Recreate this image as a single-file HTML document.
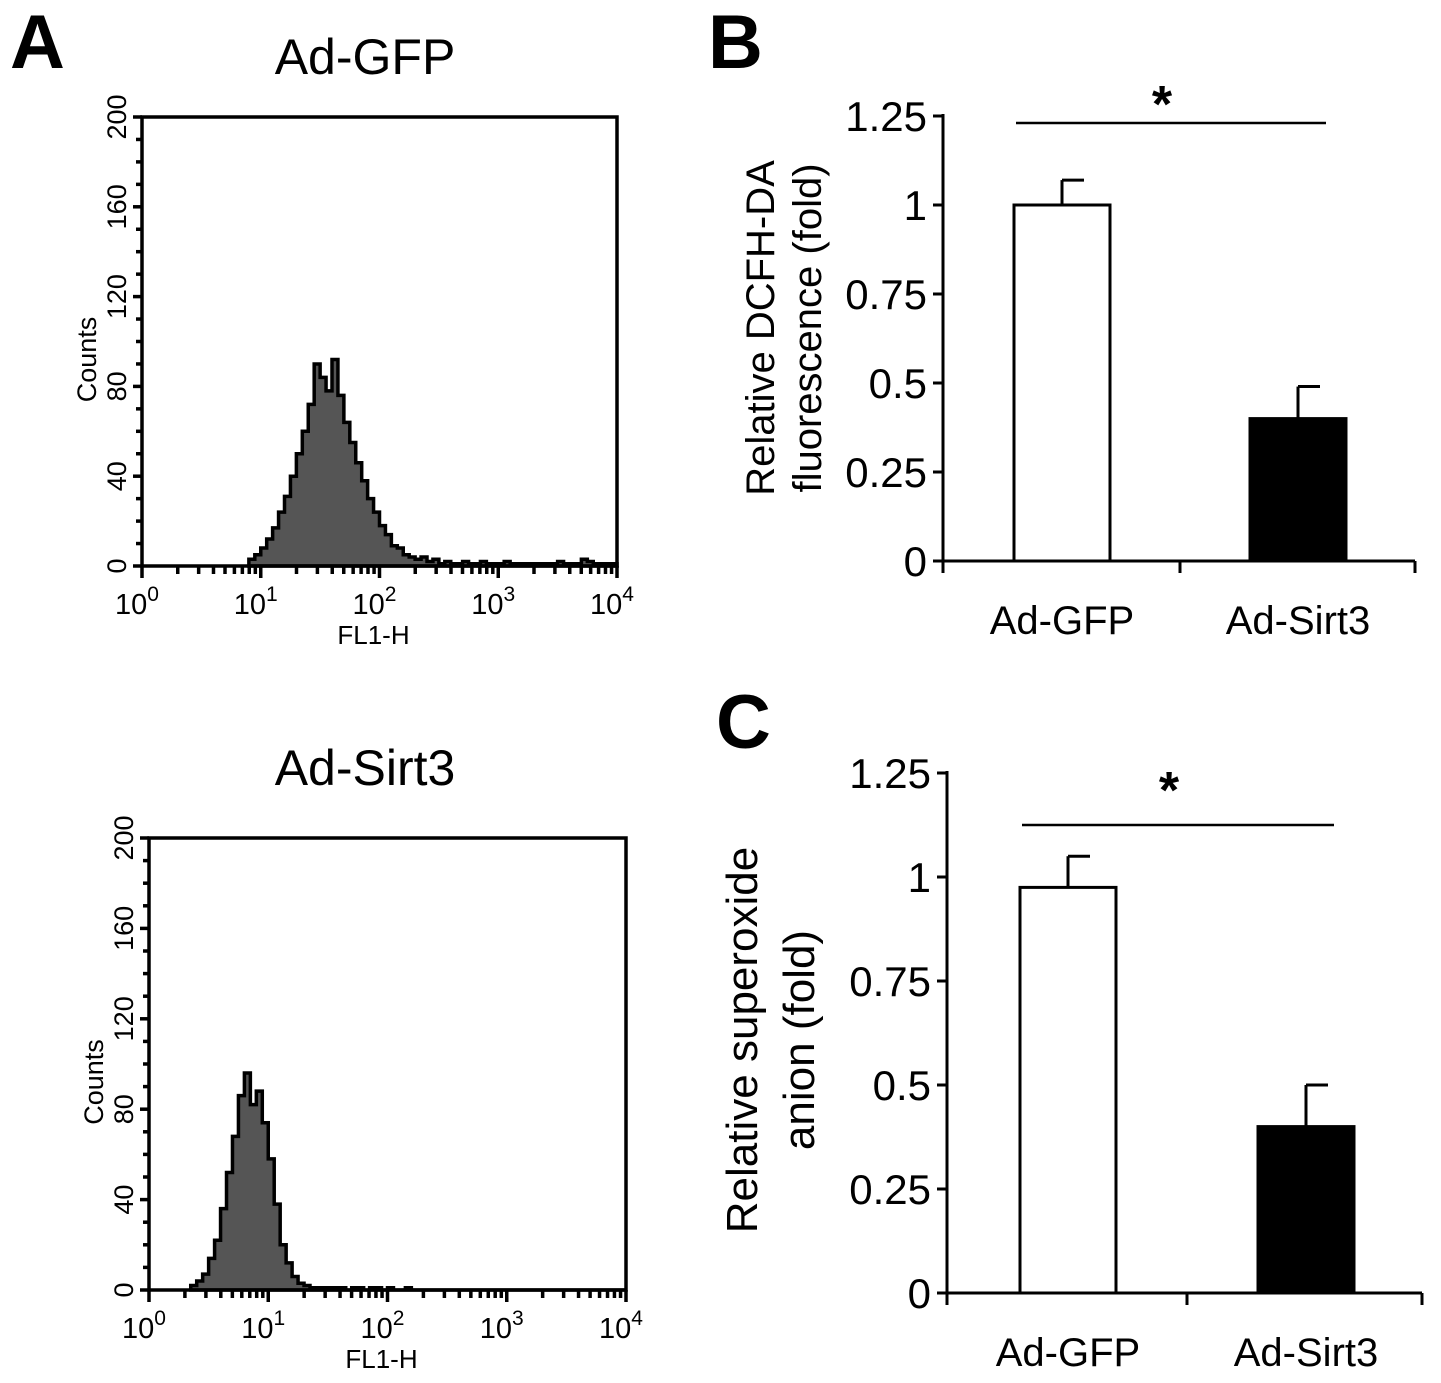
<!DOCTYPE html>
<html><head><meta charset="utf-8"><style>
html,body{margin:0;padding:0;background:#fff;}
svg{display:block;font-family:"Liberation Sans",Arial,sans-serif;}
</style></head><body>
<svg id="fig" width="1441" height="1383" viewBox="0 0 1441 1383">
<text x="10" y="68" font-size="76" font-weight="bold">A</text>
<text x="708" y="68" font-size="76" font-weight="bold">B</text>
<text x="716" y="748" font-size="76" font-weight="bold">C</text>
<text x="365" y="74" font-size="50" text-anchor="middle">Ad-GFP</text>
<text x="365" y="785" font-size="50" text-anchor="middle">Ad-Sirt3</text>
<g id="g"></g>
</svg>
<script>
// Histogram data (bins of 0.05 decades, counts)
const histTopStart = 0.9;
const histTopCounts = [3,5,8,12,17,24,31,40,50,60,72,90,84,78,92,76,64,55,46,38,30,24,18,14,9,8,5,4,3,4,2,3,1,2,1,1,2,1,1,2,1,1,1,2,1,1,1,1,1,1,1,1,2,1,1,1,3,2,1,1,1,1];
const histBottomStart = 0.35;
const histBottomCounts = [2,4,7,14,22,36,52,68,86,96,82,88,74,58,38,20,12,6,3,2,1,1,1,1,1,1,0,1,1,0,1,1,0,1,0,0,1,0,0];
const histYTicks = [0,40,80,120,160,200];
const histXTicks = ["0","1","2","3","4"];
// Bar chart data
const barCats = ["Ad-GFP","Ad-Sirt3"];
const barBValues = [1.0,0.40];
const barBErrors = [0.07,0.09];
const barCValues = [0.975,0.40];
const barCErrors = [0.075,0.10];
const barYTicks = [0,0.25,0.5,0.75,1,1.25];
const barYTickLabels = ["0","0.25","0.5","0.75","1","1.25"];

const NS="http://www.w3.org/2000/svg";
const G=document.getElementById('g');
function mk(tag,attrs,parent,txt){const e=document.createElementNS(NS,tag);for(const k in attrs)e.setAttribute(k,attrs[k]);if(txt!==undefined)e.textContent=txt;(parent||G).appendChild(e);return e;}

function histogram(id,box,start,counts){
  const {x0,x1,y0,y1}=box;
  const sx=v=>x0+(x1-x0)*v/4;
  const sy=c=>y0-(y0-y1)*c/200;
  const grp=mk('g',{});
  
  
  let d='M'+sx(start)+','+sy(0);
  counts.forEach((c,i)=>{const a=sx(start+i*0.05),b=sx(start+(i+1)*0.05);d+=' L'+a+','+sy(c)+' L'+b+','+sy(c);});
  d+=' L'+sx(start+counts.length*0.05)+','+sy(0)+' L'+sx(4)+','+sy(0)+' Z';
  const p=mk('path',{d:d,fill:'#555',stroke:'#000','stroke-width':3.5,'stroke-linejoin':'miter'},grp);
  
  
  const fr=mk('rect',{x:x0,y:y1,width:x1-x0,height:y0-y1,fill:'none',stroke:'#000','stroke-width':3.5},grp);
  
  
  for(let c=0;c<=200;c+=10){const big=c%40===0;mk('line',{x1:x0-(big?9:6),x2:x0,y1:sy(c),y2:sy(c),stroke:'#000','stroke-width':3.5},grp);}
  histYTicks.forEach(t=>{const tx=mk('text',{x:0,y:0,'font-size':27,'text-anchor':'middle',transform:'translate('+(x0-16)+','+sy(t)+') rotate(-90)'},grp,String(t));
    
    });
  for(let dcd=0;dcd<4;dcd++){for(let m=1;m<=9;m++){const lx=sx(dcd+Math.log10(m));mk('line',{x1:lx,x2:lx,y1:y0,y2:y0+(m===1?12:8),stroke:'#000','stroke-width':3.5},grp);}}
  mk('line',{x1:sx(4),x2:sx(4),y1:y0,y2:y0+12,stroke:'#000','stroke-width':3.5},grp);
  histXTicks.forEach((t,i)=>{const tx=mk('text',{x:sx(i)-5,y:y0+48,'font-size':29,'text-anchor':'middle'},grp);
    
    
    mk('tspan',{},tx,'10');mk('tspan',{dy:-13,'font-size':21},tx,t);});
  const xl=mk('text',{x:(x0+x1)/2-6,y:y0+78,'font-size':26,'text-anchor':'middle'},grp,'FL1-H');
  
  
  const yl=mk('text',{x:0,y:0,'font-size':27,'text-anchor':'middle',transform:'translate('+(x0-46)+','+((y0+y1)/2+18)+') rotate(-90)'},grp,'Counts');
  
  
}
histogram('hist-top',{x0:142,x1:617,y0:566,y1:117},histTopStart,histTopCounts);
histogram('hist-bottom',{x0:149,x1:626,y0:1290,y1:838},histBottomStart,histBottomCounts);

function barChart(id,box,vals,errs,ylab1,ylab2,starY,lineY,labX1,labX2,cy,tfs){
  const {ax,y0,y1,xEnd,bars,w}=box;
  const sy=v=>y0-(y0-y1)*v/1.25;
  const grp=mk('g',{});
  
  
  mk('line',{x1:ax,x2:ax,y1:sy(1.25)-2,y2:y0,stroke:'#000','stroke-width':3},grp);
  mk('line',{x1:ax,x2:xEnd,y1:y0,y2:y0,stroke:'#000','stroke-width':3},grp);
  [ax,(bars[0]+bars[1])/2+w/2,xEnd].forEach(x=>mk('line',{x1:x,x2:x,y1:y0,y2:y0+12,stroke:'#000','stroke-width':3},grp));
  barYTicks.forEach((t,i)=>{mk('line',{x1:ax-10,x2:ax,y1:sy(t),y2:sy(t),stroke:'#000','stroke-width':3},grp);
    const tx=mk('text',{x:ax-16,y:sy(t)+15,'font-size':42,'text-anchor':'end'},grp,barYTickLabels[i]);
    
    });
  vals.forEach((v,i)=>{const x=bars[i];
    const e=mk('line',{x1:x+w/2,x2:x+w/2,y1:sy(v),y2:sy(v+errs[i]),stroke:'#000','stroke-width':3},grp);
    
    
    mk('line',{x1:x+w/2,x2:x+w/2+22,y1:sy(v+errs[i]),y2:sy(v+errs[i]),stroke:'#000','stroke-width':3},grp);
    const r=mk('rect',{x:x,y:sy(v),width:w,height:y0-sy(v),fill:i===0?'#fff':'#000',stroke:'#000','stroke-width':3},grp);
    
    
    const l=mk('text',{x:x+w/2,y:y0+73,'font-size':40,'text-anchor':'middle'},grp,barCats[i]);
    
    });
  const sl=mk('line',{x1:bars[0]+2,x2:bars[1]+w-20,y1:lineY,y2:lineY,stroke:'#000','stroke-width':2.5},grp);
  
  
  const st=mk('text',{x:(bars[0]+bars[1]+w)/2-18,y:starY,'font-size':52,'font-weight':'bold','text-anchor':'middle'},grp,'*');
  
  
  const a=mk('text',{x:0,y:0,'font-size':tfs,'text-anchor':'middle',transform:'translate('+labX1+','+cy+') rotate(-90)'},grp,ylab1);
  
  
  const b=mk('text',{x:0,y:0,'font-size':tfs,'text-anchor':'middle',transform:'translate('+labX2+','+cy+') rotate(-90)'},grp,ylab2);
  
  
}
barChart('bar-chart-b',{ax:943,y0:561,y1:116,xEnd:1415,bars:[1014,1250],w:96},barBValues,barBErrors,'Relative DCFH-DA','fluorescence (fold)',122,123,774,821,328,40);
barChart('bar-chart-c',{ax:947,y0:1293,y1:773,xEnd:1422,bars:[1020,1258],w:96},barCValues,barCErrors,'Relative superoxide','anion (fold)',808,825,757,814,1040,44);
</script>
</body></html>
